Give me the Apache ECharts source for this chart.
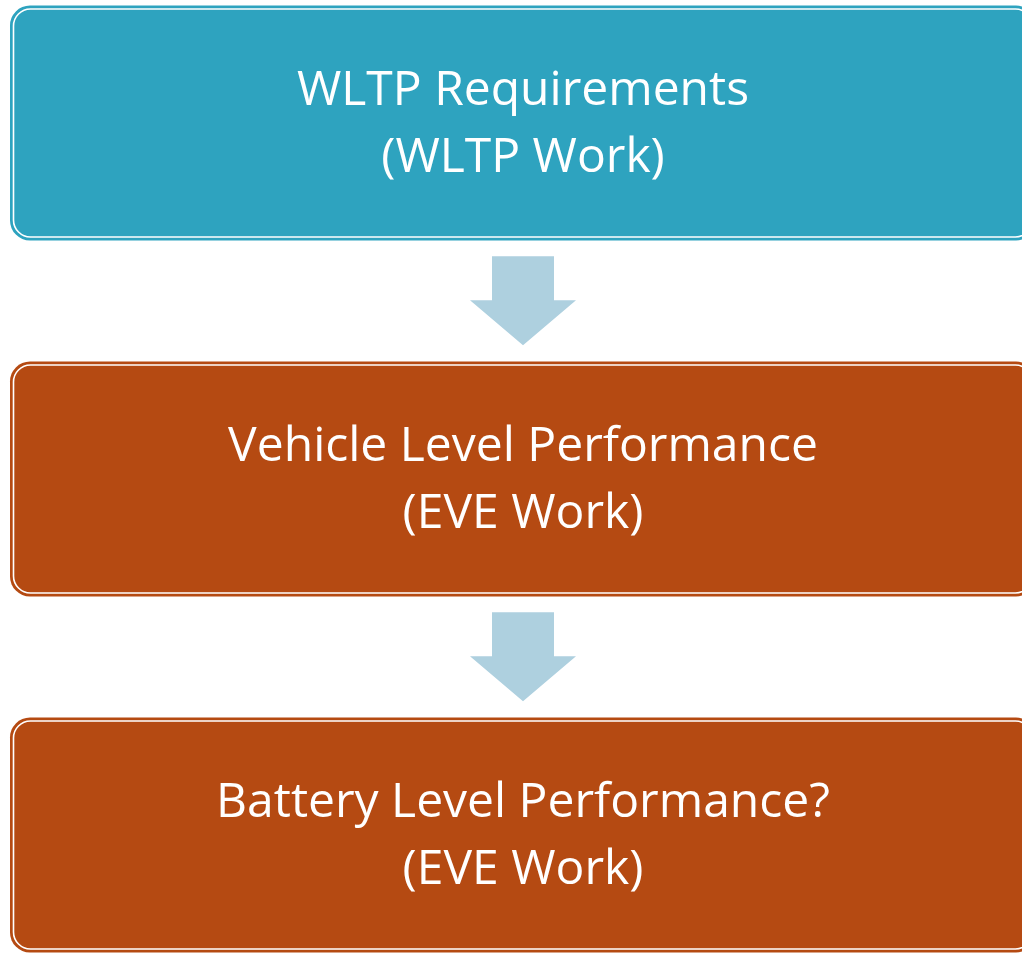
<!DOCTYPE html>
<html><head><meta charset="utf-8">
<script src="https://cdn.jsdelivr.net/npm/echarts@6/dist/echarts.min.js"></script>
<style>html,body{margin:0;padding:0;background:#fff}#c{width:1022px;height:953px}</style>
</head><body><div id="c"></div>
<script>
// Steps of the flow (top to bottom)
const stepTitles = ['WLTP Requirements', 'Vehicle Level Performance', 'Battery Level Performance?'];
const stepSubtitles = ['(WLTP Work)', '(EVE Work)', '(EVE Work)'];
const stepColors = ['#2EA3BF', '#B54A12', '#B54A12'];
const stepIndex = [0, 1, 2];
const arrowIndex = [0.5, 1.5];

const chart = echarts.init(document.getElementById('c'), null, {renderer: 'canvas'});

function renderBox(params, api) {
  const i = api.value(0);
  const c = api.coord([523, i]);
  const unit = api.size([0, 1])[1];
  const h = unit * 0.66;
  const left = api.coord([10, i])[0];
  const right = api.coord([1036, i])[0];
  const top = c[1] - h / 2;
  const idx = params.dataIndex;
  return {
    type: 'group',
    children: [
      {type: 'rect', shape: {x: left, y: top, width: right - left, height: h, r: 20},
       style: {fill: stepColors[idx]}},
      {type: 'rect', shape: {x: left + 3.5, y: top + 3.5, width: right - left - 7, height: h - 7, r: 17},
       style: {fill: null, stroke: '#ffffff', lineWidth: 1.6}},
      {type: 'text', x: c[0], y: c[1] - 32,
       style: {text: stepTitles[idx], fill: '#ffffff', font: '48px "Open Sans"', align: 'center', verticalAlign: 'middle'}},
      {type: 'text', x: c[0], y: c[1] + 35,
       style: {text: stepSubtitles[idx], fill: '#ffffff', font: '48px "Open Sans"', align: 'center', verticalAlign: 'middle'}}
    ]
  };
}

function renderArrow(params, api) {
  const i = api.value(0);
  const c = api.coord([523, i]);
  const unit = api.size([0, 1])[1];
  const top = c[1] - unit * 0.126;
  const neck = c[1] - 0.002 * unit;
  const bottom = c[1] + unit * 0.124;
  const sw = 31, hw = 53;
  return {
    type: 'polygon',
    shape: {points: [
      [c[0] - sw, top], [c[0] + sw, top], [c[0] + sw, neck], [c[0] + hw, neck],
      [c[0], bottom], [c[0] - hw, neck], [c[0] - sw, neck]
    ]},
    style: {fill: '#AED0DF'}
  };
}

chart.setOption({
  animation: false,
  grid: {left: 0, right: 0, top: 0, bottom: 0},
  xAxis: {type: 'value', min: 0, max: 1022, show: false},
  yAxis: {type: 'value', min: -123 / 356, max: (953 - 123) / 356, inverse: true, show: false},
  series: [
    {type: 'custom', renderItem: renderArrow, data: arrowIndex.map(v => [v]), silent: true},
    {type: 'custom', renderItem: renderBox, data: stepIndex.map(v => [v]), silent: true}
  ]
});
</script></body></html>
